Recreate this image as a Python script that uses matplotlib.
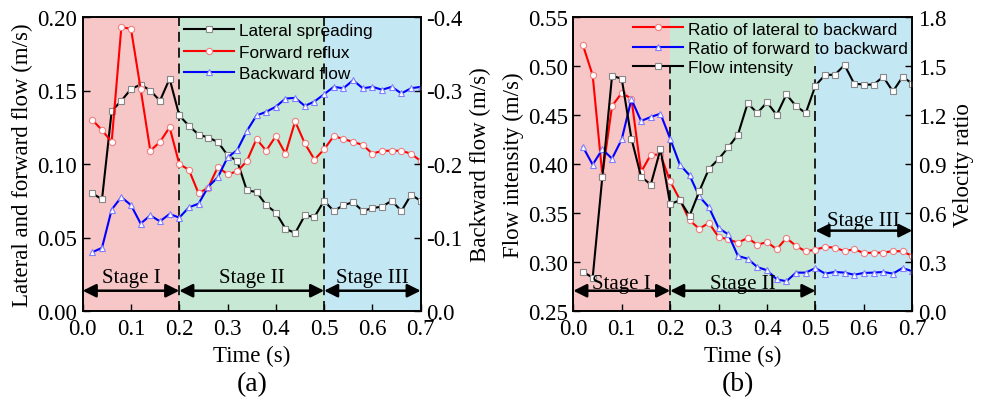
import matplotlib
matplotlib.use("Agg")
import matplotlib.pyplot as plt
import numpy as np

# ---------------- data ----------------
time = [round(0.02 * k, 2) for k in range(1, 36)]

# panel (a)
lateral_spreading = [0.080, 0.076, 0.136, 0.143, 0.151, 0.154, 0.150, 0.143, 0.158, 0.133,
                     0.126, 0.120, 0.118, 0.115, 0.106, 0.102, 0.082, 0.081, 0.072, 0.067,
                     0.056, 0.053, 0.065, 0.064, 0.075, 0.068, 0.072, 0.074, 0.068, 0.070,
                     0.071, 0.075, 0.068, 0.079, 0.075]
forward_reflux = [0.130, 0.123, 0.115, 0.193, 0.192, 0.151, 0.109, 0.115, 0.125, 0.100,
                  0.096, 0.080, 0.084, 0.098, 0.093, 0.095, 0.102, 0.117, 0.109, 0.119,
                  0.107, 0.129, 0.114, 0.103, 0.110, 0.119, 0.117, 0.115, 0.113, 0.107,
                  0.109, 0.109, 0.109, 0.107, 0.102]
backward_flow = [-0.080, -0.086, -0.138, -0.155, -0.144, -0.119, -0.130, -0.122, -0.132, -0.127,
                 -0.141, -0.146, -0.169, -0.182, -0.209, -0.219, -0.245, -0.266, -0.271, -0.278,
                 -0.289, -0.290, -0.279, -0.285, -0.295, -0.305, -0.303, -0.314, -0.303, -0.305,
                 -0.301, -0.305, -0.296, -0.303, -0.305]

# panel (b)
flow_intensity = [0.290, 0.284, 0.387, 0.490, 0.487, 0.426, 0.387, 0.379, 0.415, 0.359,
                  0.363, 0.347, 0.372, 0.395, 0.405, 0.417, 0.430, 0.462, 0.452, 0.463,
                  0.450, 0.471, 0.459, 0.452, 0.480, 0.491, 0.491, 0.501, 0.482, 0.481,
                  0.481, 0.489, 0.474, 0.489, 0.482]
ratio_lat_back = [1.627, 1.443, 0.831, 1.255, 1.335, 1.300, 0.851, 0.957, 0.957, 0.794,
                  0.682, 0.555, 0.504, 0.539, 0.453, 0.439, 0.418, 0.447, 0.406, 0.422,
                  0.378, 0.447, 0.398, 0.365, 0.376, 0.392, 0.388, 0.367, 0.378, 0.355,
                  0.357, 0.357, 0.367, 0.365, 0.337]
ratio_fwd_back = [1.004, 0.896, 0.990, 0.933, 1.051, 1.296, 1.163, 1.188, 1.208, 1.055,
                  0.896, 0.831, 0.702, 0.635, 0.508, 0.469, 0.337, 0.320, 0.269, 0.249,
                  0.194, 0.182, 0.235, 0.235, 0.263, 0.229, 0.239, 0.235, 0.222, 0.233,
                  0.235, 0.239, 0.229, 0.263, 0.243]

stage_bounds = [0.0, 0.2, 0.5, 0.7]
stage_labels = ["Stage I", "Stage II", "Stage III"]
stage_colors = ["#F7C6C6", "#C6E8D4", "#C4E7F4"]

SERIF = ["Liberation Serif", "DejaVu Serif"]
SANS = ["Liberation Sans", "DejaVu Sans"]
plt.rcParams["font.family"] = SERIF

fig = plt.figure(figsize=(9.83, 4.06), dpi=100)
W, H = 983, 406
def rect(x0, x1, y0, y1):
    return [x0 / W, 1 - y1 / H, (x1 - x0) / W, (y1 - y0) / H]

axA = fig.add_axes(rect(82.7, 420.7, 18, 312))
axB = fig.add_axes(rect(573.3, 912.3, 18, 312))

TICK_FS = 16.5
LAB_FS = 16.5
LEG_FS = 12.4
STAGE_FS = 15

def style_axis(ax):
    ax.tick_params(direction="in", length=5, width=1, labelsize=TICK_FS)
    ax.tick_params(axis="x", pad=5)
    ax.tick_params(axis="y", pad=4)
    for s in ax.spines.values():
        s.set_linewidth(1.2)

def series(ax, y, color, marker, edge, label, **kw):
    return ax.plot(time, y, color=color, lw=1.5, marker=marker, ms=4.5,
                   mfc="white", mec=edge, mew=0.8, label=label, **kw)[0]

def stage_arrow(ax, a, b, ay, ty, label):
    ax.annotate("", xy=(b, ay), xytext=(a, ay),
                arrowprops=dict(arrowstyle="<|-|>", color="black", lw=1.8,
                                mutation_scale=20, shrinkA=0, shrinkB=0), zorder=5)
    ax.text((a + b) / 2, ty, label, ha="center", va="center",
            fontsize=STAGE_FS, zorder=5)

DASH = (0, (6, 3.5))
xt = np.arange(0, 0.71, 0.1)

# ---------------- panel (a) ----------------
ax = axA
ax2 = ax.twinx()
ax.set_xlim(0, 0.7)
ax.set_ylim(0, 0.20)
ax2.set_ylim(0, -0.4)
for i in range(3):
    ax.axvspan(stage_bounds[i], stage_bounds[i + 1], color=stage_colors[i], lw=0, zorder=0)
for xv in (0.2, 0.5):
    ax.axvline(xv, color="black", ls=DASH, lw=1.2, zorder=1)
l1 = series(ax, lateral_spreading, "black", "s", "#888888", "Lateral spreading")
l2 = series(ax, forward_reflux, "#FF0000", "o", "#F08080", "Forward reflux")
l3 = series(ax2, backward_flow, "#0000FF", "^", "#8080FF", "Backward flow")
ax.set_xticks(xt)
ax.set_xticklabels([f"{v:.1f}" for v in xt])
yt = np.arange(0, 0.201, 0.05)
ax.set_yticks(yt)
ax.set_yticklabels([f"{v:.2f}" for v in yt])
ax2.set_yticks([0.0, -0.1, -0.2, -0.3, -0.4])
ax2.set_yticklabels(["0.0", "-0.1", "-0.2", "-0.3", "-0.4"])
style_axis(ax); style_axis(ax2)
ax.set_xlabel("Time (s)", fontsize=LAB_FS, labelpad=4)
ax.set_ylabel("Lateral and forward flow (m/s)", fontsize=LAB_FS, labelpad=3)
ax2.set_ylabel("Backward flow (m/s)", fontsize=LAB_FS, labelpad=5)
ax2.legend(handles=[l1, l2, l3], loc="upper left", bbox_to_anchor=(0.27, 1.015),
           frameon=False, prop={"family": SANS, "size": LEG_FS},
           handlelength=2.9, handletextpad=0.3, labelspacing=0.38, borderaxespad=0.2)
for i in range(3):
    stage_arrow(ax2, stage_bounds[i], stage_bounds[i + 1], -0.0276, -0.046, stage_labels[i])

# ---------------- panel (b) ----------------
ax = axB
bx2 = ax.twinx()
ax.set_xlim(0, 0.7)
ax.set_ylim(0.25, 0.55)
bx2.set_ylim(0, 1.8)
for i in range(3):
    ax.axvspan(stage_bounds[i], stage_bounds[i + 1], color=stage_colors[i], lw=0, zorder=0)
for xv in (0.2, 0.5):
    ax.plot([xv, xv], [0.25, 0.50], color="black", ls=DASH, lw=1.2, zorder=1)
m1 = series(bx2, ratio_lat_back, "#FF0000", "o", "#F08080", "Ratio of lateral to backward")
m2 = series(bx2, ratio_fwd_back, "#0000FF", "^", "#8080FF", "Ratio of forward to backward")
# flow intensity uses the left axis scale
fl = series(bx2, flow_intensity, "black", "s", "#888888", "Flow intensity",
            transform=ax.transData)
ax.set_xticks(xt)
ax.set_xticklabels([f"{v:.1f}" for v in xt])
yb = np.arange(0.25, 0.551, 0.05)
ax.set_yticks(yb)
ax.set_yticklabels([f"{v:.2f}" for v in yb])
yr = np.arange(0, 1.81, 0.3)
bx2.set_yticks(yr)
bx2.set_yticklabels([f"{v:.1f}" for v in yr])
style_axis(ax); style_axis(bx2)
ax.set_xlabel("Time (s)", fontsize=LAB_FS, labelpad=4)
ax.set_ylabel("Flow intensity (m/s)", fontsize=LAB_FS, labelpad=3)
bx2.set_ylabel("Velocity ratio", fontsize=LAB_FS, labelpad=5)
bx2.legend(handles=[m1, m2, fl], loc="upper left", bbox_to_anchor=(0.145, 1.02),
           frameon=False, prop={"family": SANS, "size": LEG_FS},
           handlelength=2.9, handletextpad=0.3, labelspacing=0.25, borderaxespad=0.2)
stage_arrow(bx2, 0.0, 0.2, 0.124, 0.17, stage_labels[0])
stage_arrow(bx2, 0.2, 0.5, 0.124, 0.17, stage_labels[1])
stage_arrow(bx2, 0.5, 0.7, 0.492, 0.555, stage_labels[2])

fig.text(252 / W, 1 - 385 / H, "(a)", ha="center", va="center", fontsize=20)
fig.text(738 / W, 1 - 385 / H, "(b)", ha="center", va="center", fontsize=20)

fig.savefig("out.png", dpi=100)
